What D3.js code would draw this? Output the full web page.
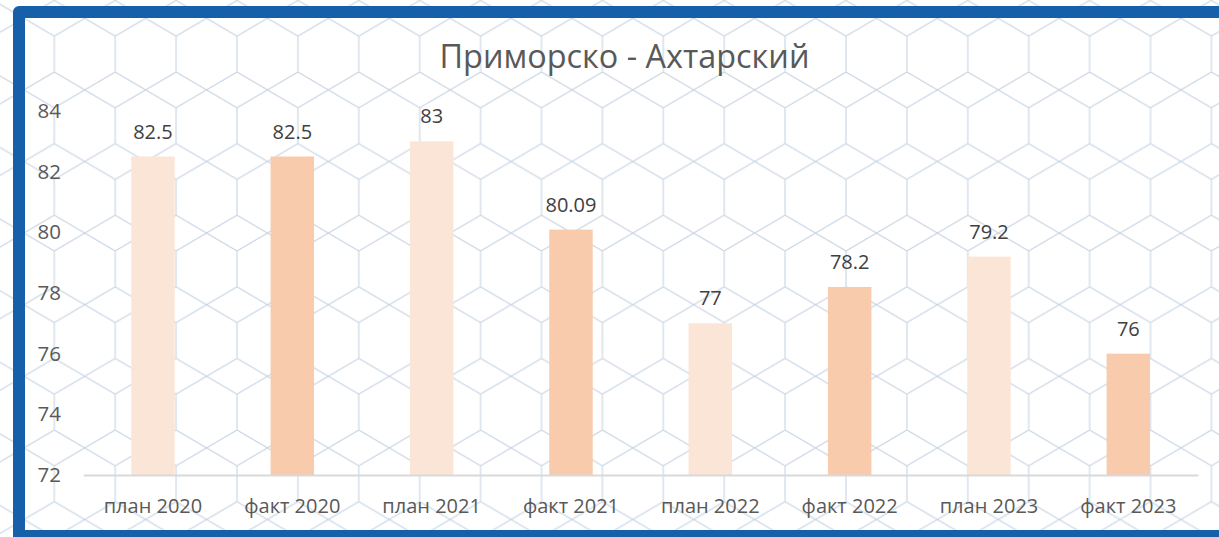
<html lang="ru">

<head>
  <meta charset="utf-8">
  <title>Приморско - Ахтарский</title>
  <script type="text/javascript" src="https://d3js.org/d3.v7.min.js"></script>
  <style>
    body { margin: 0; background: #fff; }
    text { font-family: "Open Sans", "Noto Sans", sans-serif; }
  </style>
</head>

<body>
  <svg width="1219" height="537"></svg>
  <script>
    const title = "Приморско - Ахтарский";
    const categories = ["план 2020", "факт 2020", "план 2021", "факт 2021",
                        "план 2022", "факт 2022", "план 2023", "факт 2023"];
    const values = [82.5, 82.5, 83, 80.09, 77, 78.2, 79.2, 76];
    const yTicks = [72, 74, 76, 78, 80, 82, 84];

    const svg = d3.select("svg");

    // honeycomb background
    const hw = 60.9, hh = 71.6;
    const pat = svg.append("defs").append("pattern")
      .attr("id", "hex")
      .attr("patternUnits", "userSpaceOnUse")
      .attr("x", 54.3).attr("y", 0.4)
      .attr("width", hw).attr("height", hh);
    pat.append("path")
      .attr("d", `M0,0L${hw},${hh / 2}M${hw},0L0,${hh / 2}` +
                 `M0,${hh / 2}V${hh}M${hw},${hh / 2}V${hh}`)
      .attr("fill", "none")
      .attr("stroke", "#cbd7e5")
      .attr("stroke-width", 1.2);

    svg.append("rect")
      .attr("width", 1219).attr("height", 537)
      .attr("fill", "#fff");
    svg.append("rect")
      .attr("width", 1219).attr("height", 537)
      .attr("fill", "url(#hex)");

    // frame
    svg.append("rect")
      .attr("x", 19).attr("y", 12)
      .attr("width", 1212).attr("height", 524)
      .attr("fill", "none")
      .attr("stroke", "#1560a8")
      .attr("stroke-width", 12)
      .attr("stroke-linejoin", "round");

    const x = d3.scaleBand()
      .domain(categories)
      .range([83.3, 1198])
      .paddingInner(0.688)
      .paddingOuter(0.344);

    const y = d3.scaleLinear()
      .domain([72, 84])
      .range([475, 111]);

    // title
    svg.append("text")
      .attr("x", 624.5).attr("y", 68.3)
      .attr("text-anchor", "middle")
      .attr("font-size", 32.4)
      .attr("fill", "#595959")
      .text(title);

    // y axis labels
    const yAxis = svg.append("g")
      .attr("transform", "translate(61,0)")
      .call(d3.axisLeft(y).tickValues(yTicks).tickSize(0).tickPadding(0));
    yAxis.select(".domain").remove();
    yAxis.selectAll("text")
      .attr("font-size", 20.5)
      .attr("fill", "#595959")
      .style("font-family", "'Open Sans', sans-serif");

    // bars
    svg.selectAll("rect.bar")
      .data(values)
      .enter()
      .append("rect")
      .attr("class", "bar")
      .attr("x", (d, i) => x(categories[i]))
      .attr("width", x.bandwidth())
      .attr("y", d => y(d))
      .attr("height", d => y(72) - y(d))
      .attr("fill", (d, i) => categories[i].startsWith("план") ? "#fbe5d6" : "#f8cbad");

    // value labels
    svg.selectAll("text.val")
      .data(values)
      .enter()
      .append("text")
      .attr("class", "val")
      .attr("x", (d, i) => x(categories[i]) + x.bandwidth() / 2)
      .attr("y", d => y(d) - 18)
      .attr("text-anchor", "middle")
      .attr("font-size", 20)
      .attr("fill", "#404040")
      .text(d => String(d));

    // x axis
    const xAxis = svg.append("g")
      .attr("transform", "translate(0,475)")
      .call(d3.axisBottom(x).tickSize(0).tickPadding(0));
    xAxis.select(".domain")
      .attr("stroke", "#d9d9d9")
      .attr("stroke-width", 2);
    xAxis.selectAll("text")
      .attr("y", 38)
      .attr("dy", 0)
      .attr("font-size", 20)
      .attr("fill", "#595959")
      .style("font-family", "'Open Sans', sans-serif");
  </script>
</body>

</html>
